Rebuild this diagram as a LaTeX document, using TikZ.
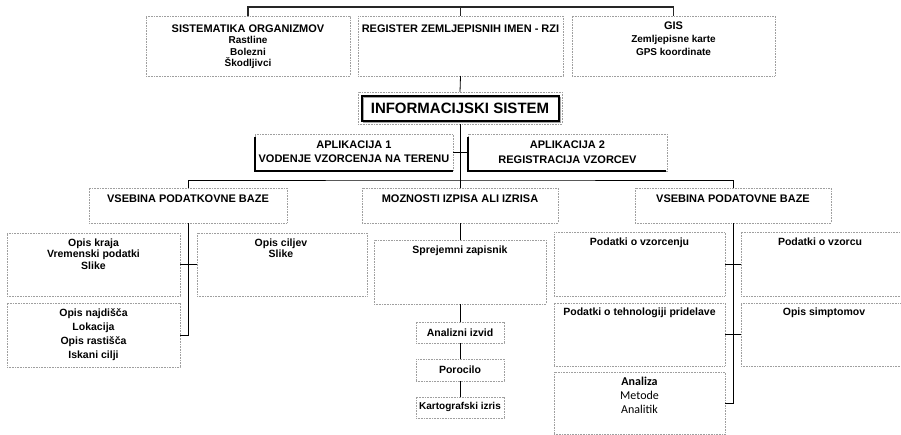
\documentclass[tikz,border=0pt]{standalone}
\usepackage{fontspec}
\setmainfont{Liberation Sans}
\newfontfamily\carl{Carlito}
\usetikzlibrary{calc}
\newcommand\mybox[5]{\node[box,minimum width={(#4-#2)*1pt},minimum height={(#5-#3)*1pt}] (#1) at (#2,#3) {};}
\newcommand\fl{\rule{0pt}{9pt}}
\begin{document}
\begin{tikzpicture}[x=1pt,y=-1pt,
  box/.style={draw=gray!75,dash pattern=on 0.8pt off 0.8pt,line width=0.6pt,inner sep=0pt,outer sep=0pt,anchor=north west},
  txt/.style={anchor=base,inner sep=0pt,align=center,font=\bfseries\fontsize{10.5}{11.7}\selectfont},
  captxt/.style={txt,font=\bfseries\fontsize{11}{14.5}\selectfont},
  subtxt/.style={txt,font=\bfseries\fontsize{10}{11.6}\selectfont},
  ml/.style={anchor=north},
  conn/.style={draw=black,line width=0.8pt},
  topconn/.style={draw=black!85,line width=1.1pt},
  heavy/.style={draw=black,line width=2pt}]
\path[use as bounding box,clip] (0,0) rectangle (901,434);
\fill[white] (0,0) rectangle (901,434);
% boxes
\mybox{sis}{146}{16}{350}{76}
\mybox{reg}{358}{16}{563}{76}
\mybox{gis}{572}{16}{775}{76}
\mybox{info}{358}{92}{562}{124}
\mybox{apa}{255}{134}{453}{171}
\mybox{apb}{468}{134}{667}{171}
\mybox{vsa}{89}{188}{287}{223}
\mybox{moz}{362}{188}{558}{223}
\mybox{vsb}{635}{188}{831}{223}
\mybox{kraj}{7}{233}{180}{296}
\mybox{najd}{7}{303}{180}{367}
\mybox{cilj}{197}{233}{367}{296}
\mybox{sprej}{374}{240}{546}{304}
\mybox{anz}{416}{322}{504}{343}
\mybox{por}{416}{359}{504}{381}
\mybox{kart}{416}{397}{504}{418}
\mybox{pvz}{554}{232}{725}{296}
\mybox{teh}{554}{303}{725}{366}
\mybox{anal}{554}{372}{725}{434.5}
\mybox{pvc}{741}{232}{906}{296}
\mybox{simp}{741}{303}{906}{366}
% info frame
\draw[gray!70,line width=1.4pt] (363.5,97.5) rectangle (560.5,122.5);
\draw[black,line width=1.1pt] (362,96) rectangle (559,121);
% application heavy edges
\draw[heavy] (255,137) -- (255,171) -- (453,171);
\draw[heavy] (468,137) -- (468,171) -- (666,171);
% connectors
\coordinate (top) at (460.5,7);
\coordinate (mid) at (460,180);
\draw[topconn] (sis.north) |- (top) -| (gis.north);
\draw[topconn] (top) -- (reg.north);
\draw[conn] (reg.south) -- (info.north);
\draw[conn] (info.south) -- (moz.north);
\draw[conn] (vsa.north) |- (mid) -| (vsb.north);
\draw[conn] (apa.east) -- (apb.west);
\draw[conn] (vsa.south) |- (najd.east);
\draw[conn] (kraj.east) -- (cilj.west);
\draw[conn] (moz.south) -- (sprej.north);
\draw[conn] (sprej.south) -- (anz.north);
\draw[conn] (anz.south) -- (por.north);
\draw[conn] (por.south) -- (kart.north);
\draw[conn] (vsb.south) |- (anal.east);
\draw[conn] (pvz.east) -- (pvc.west);
\draw[conn] (teh.east) -- (simp.west);
% texts
\node[captxt] (sisT) at (248,32) {SISTEMATIKA ORGANIZMOV};
\node[subtxt,ml] (sisI) at (248,34.3) {\fl Rastline\\Bolezni\\Škodljivci};
\node[captxt] (regT) at (460.5,32) {REGISTER ZEMLJEPISNIH IMEN - RZI};
\node[captxt] (gisT) at (673.5,29.5) {GIS};
\node[subtxt,ml,font=\bfseries\fontsize{10}{12.4}\selectfont] (gisI) at (673.5,33.7) {\fl Zemljepisne karte\\GPS koordinate};
\node[txt,font=\bfseries\fontsize{15}{18}\selectfont] (infoT) at (460,113.3) {INFORMACIJSKI SISTEM};
\node[captxt,ml] (apaT) at (354,139) {\fl APLIKACIJA 1\\VODENJE VZORCENJA NA TERENU};
\node[captxt,ml] (apbT) at (567.5,139.5) {\fl APLIKACIJA 2\\REGISTRACIJA VZORCEV};
\node[captxt] (vsaT) at (188,202) {VSEBINA PODATKOVNE BAZE};
\node[captxt] (mozT) at (460,202) {MOZNOSTI IZPISA ALI IZRISA};
\node[captxt] (vsbT) at (733,202) {VSEBINA PODATOVNE BAZE};
\node[txt,ml] (krajT) at (93.5,237) {\fl Opis kraja\\Vremenski podatki\\Slike};
\node[txt,ml] (ciljT) at (281,237) {\fl Opis ciljev\\Slike};
\node[txt,ml,font=\bfseries\fontsize{10.5}{14}\selectfont] (najdT) at (93.5,307) {\fl Opis najdišča\\Lokacija\\Opis rastišča\\Iskani cilji};
\node[txt] (sprejT) at (460,253) {Sprejemni zapisnik};
\node[txt] (anzT) at (460,336) {Analizni izvid};
\node[txt] (porT) at (460,373) {Porocilo};
\node[txt,font=\bfseries\fontsize{10}{12}\selectfont] (kartT) at (460,409) {Kartografski izris};
\node[txt] (pvzT) at (639.5,245) {Podatki o vzorcenju};
\node[txt] (tehT) at (639.5,315) {Podatki o tehnologiji pridelave};
\node[txt,ml,font=\carl\fontsize{12}{14}\selectfont] (analT) at (639.5,376) {\fl\textbf{Analiza}\\Metode\\Analitik};
\node[txt] (pvcT) at (820,245) {Podatki o vzorcu};
\node[txt] (simpT) at (824,315) {Opis simptomov};
\end{tikzpicture}
\end{document}
